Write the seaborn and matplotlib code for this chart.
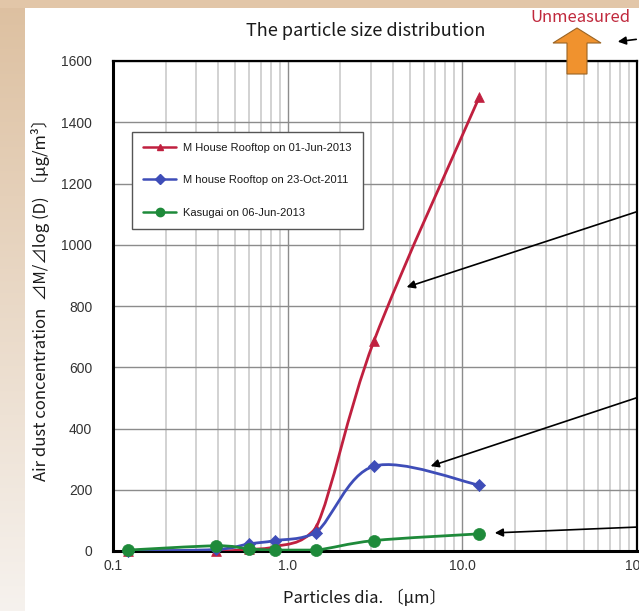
import numpy as np
import pandas as pd
import matplotlib
matplotlib.use("Agg")
import matplotlib.pyplot as plt
import seaborn as sns
from matplotlib.path import Path
from matplotlib.patches import PathPatch, Polygon, FancyArrowPatch
from matplotlib.lines import Line2D
from matplotlib.ticker import NullFormatter, LogLocator

# ---------------- data ----------------
diam_red = [0.122, 0.39, 0.6, 0.85, 1.45, 3.12, 12.5]
conc_red = [0, 0, 5, 14, 75, 686, 1482]
diam_blue = [0.122, 0.39, 0.6, 0.85, 1.45, 3.12, 12.5]
conc_blue = [0, 5, 23, 34, 60, 277, 215]
diam_green = [0.122, 0.39, 0.6, 0.85, 1.45, 3.12, 12.5]
conc_green = [3, 17, 7, 3, 3, 34, 56]

label_red = "M House Rooftop on 01-Jun-2013"
label_blue = "M house Rooftop on 23-Oct-2011"
label_green = "Kasugai on 06-Jun-2013"

xtick_vals = [0.1, 1.0, 10.0, 100.0]
xtick_labels = ["0.1", "1.0", "10.0", "100"]
ytick_vals = [0, 200, 400, 600, 800, 1000, 1200, 1400, 1600]

title = "The particle size distribution"
xlabel = "Particles dia. 〔µm〕"
ylabel = "Air dust concentration  ⊿M/⊿log (D) 〔µg/m³〕"
note = "Unmeasured"

# ---------------- style ----------------
sns.set_style("white")
plt.rcParams["font.family"] = ["Noto Sans CJK JP", "DejaVu Sans"]

W, H = 639, 611
fig = plt.figure(figsize=(W / 100, H / 100), dpi=100)

# background (slide decoration)
bg = np.ones((H, W, 3))
top_c = np.array([226, 198, 168]) / 255
left_top = np.array([221, 192, 160]) / 255
left_bot = np.array([246, 242, 238]) / 255
t = np.linspace(0, 1, H)[:, None]
bg[:, :25, :] = (left_top * (1 - t) + left_bot * t)[:, None, :]
bg[:8, :, :] = top_c
fig.figimage(bg, 0, 0, origin="upper", zorder=-5)


def px(x, y):
    return (x / W, 1 - y / H)


ax = fig.add_axes([113 / W, 1 - 551 / H, (637 - 113) / W, (551 - 61) / H])
ax.set_zorder(1)
ax.set_facecolor("white")
ax.set_xscale("log")
ax.set_xlim(0.1, 100)
ax.set_ylim(0, 1600)

# grid
ax.xaxis.set_minor_locator(LogLocator(base=10, subs=np.arange(2, 10)))
ax.xaxis.set_minor_formatter(NullFormatter())
ax.grid(True, which="minor", axis="x", color="#d2d2d2", lw=1.4, zorder=0)
ax.grid(True, which="major", axis="x", color="#8c8c8c", lw=1.0, zorder=0)
ax.grid(True, which="major", axis="y", color="#8c8c8c", lw=1.0, zorder=0)
ax.set_axisbelow(True)

ax.set_xticks(xtick_vals)
ax.set_xticklabels(xtick_labels)
ax.set_yticks(ytick_vals)
ax.tick_params(axis="both", which="both", length=0)
ax.tick_params(axis="y", pad=15)
ax.tick_params(axis="x", pad=6)
for lab in ax.get_xticklabels() + ax.get_yticklabels():
    lab.set_fontfamily("Liberation Sans")
    lab.set_fontsize(10)
    lab.set_color("#333333")

for s in ["left", "bottom"]:
    ax.spines[s].set_linewidth(2.2)
    ax.spines[s].set_color("black")
for s in ["top", "right"]:
    ax.spines[s].set_linewidth(1.6)
    ax.spines[s].set_color("black")


def smooth_path(xs, ys):
    pts = np.column_stack([np.log10(xs), np.asarray(ys, float)])
    n = len(pts)
    verts = [pts[0]]
    codes = [Path.MOVETO]
    for i in range(n - 1):
        p0 = pts[i - 1] if i > 0 else pts[i]
        p1 = pts[i]
        p2 = pts[i + 1]
        p3 = pts[i + 2] if i + 2 < n else pts[i + 1]
        c1 = p1 + (p2 - p0) / 6.0
        c2 = p2 - (p3 - p1) / 6.0
        lo = min(p1[1], p2[1])
        c1 = np.array([c1[0], max(c1[1], lo)])
        c2 = np.array([c2[0], max(c2[1], lo)])
        verts += [c1, c2, p2]
        codes += [Path.CURVE4] * 3
    verts = np.array(verts)
    verts[:, 0] = 10 ** verts[:, 0]
    return Path(verts, codes)


series = [
    (diam_red, conc_red, label_red, "#C0203F", "^", 50, 3),
    (diam_blue, conc_blue, label_blue, "#3E4DB8", "D", 38, 4),
    (diam_green, conc_green, label_green, "#1E8A3A", "o", 75, 5),
]

handles = []
for xs, ys, lab, col, mk, sz, z in series:
    patch = PathPatch(smooth_path(xs, ys), facecolor="none", edgecolor=col,
                      lw=2.0, zorder=z, transform=ax.transData)
    ax.add_patch(patch)
    df = pd.DataFrame({"diam": xs, "conc": ys})
    sns.scatterplot(data=df, x="diam", y="conc", ax=ax, color=col, marker=mk,
                    s=sz, edgecolor=col, linewidth=0.5, zorder=z + 0.5,
                    legend=False, clip_on=False)
    handles.append(Line2D([0], [0], color=col, lw=1.8, marker=mk,
                          markersize=5 if mk != "o" else 6, label=lab))

ax.set_xlabel("")
ax.set_ylabel("")

leg = ax.legend(handles=handles, loc="upper left",
                bbox_to_anchor=((132 - 113) / 524, (551 - 132) / 490),
                borderaxespad=0, frameon=True, fancybox=False, framealpha=1,
                edgecolor="#555555", facecolor="white", handlelength=3.0,
                handletextpad=0.6, labelspacing=2.0, borderpad=1.0,
                prop={"family": ["Liberation Sans Narrow", "Liberation Sans"],
                      "size": 8})
leg.get_frame().set_linewidth(1.0)
for txt in leg.get_texts():
    txt.set_color("#1a1a1a")

# texts
fig.text(*px(366, 31), title, ha="center", va="center", fontsize=13,
         color="#1a1a1a")
fig.text(*px(365, 598), xlabel, ha="center", va="center", fontsize=12,
         color="#1a1a1a")
fig.text(*px(41, 296), ylabel, ha="center", va="center", fontsize=12,
         rotation=90, color="#1a1a1a")
fig.text(*px(580, 18), note, ha="center", va="center", fontsize=12,
         color="#C0283C")

# orange "unmeasured" arrow
arrow_pts = [(577, 28), (553, 43), (567, 43), (567, 74), (587, 74),
             (587, 43), (601, 43)]
poly = Polygon([px(x, y) for x, y in arrow_pts], closed=True,
               transform=fig.transFigure, facecolor="#F0922E",
               edgecolor="#9a6424", lw=0.8, zorder=10)
fig.add_artist(poly)

# black pointer arrows
arrows = [((639, 211), (404, 288)),
          ((639, 397), (428, 467)),
          ((639, 527), (492, 533)),
          ((639, 39), (615, 42))]
for (x0, y0), (x1, y1) in arrows:
    fig.add_artist(FancyArrowPatch(
        px(x0, y0), px(x1, y1), transform=fig.transFigure,
        arrowstyle="-|>", mutation_scale=12, color="black", lw=1.2,
        zorder=11))

fig.savefig("out.png", dpi=100)
